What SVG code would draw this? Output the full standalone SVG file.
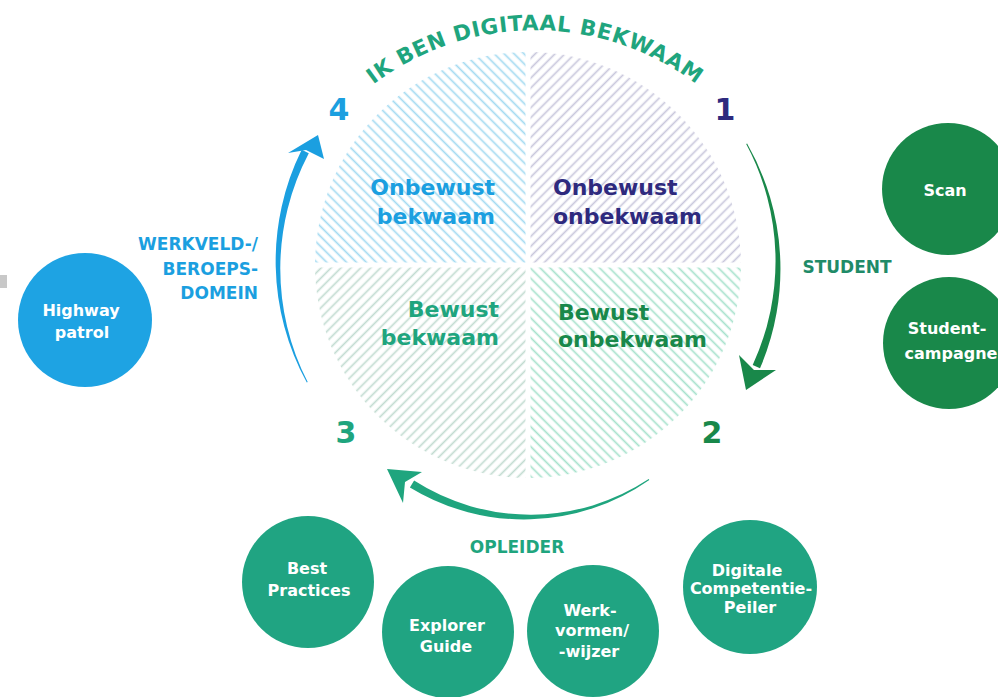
<svg xmlns="http://www.w3.org/2000/svg" width="998" height="697" viewBox="0 0 998 697">
<style>
text{font-family:"DejaVu Sans","Liberation Sans",sans-serif;font-weight:bold}
.ct{fill:#ffffff;font-size:16px;text-anchor:middle}
.q{font-size:22px}
.num{font-size:30px;text-anchor:middle}
.lbl{font-size:17px}
</style>
<defs>
<pattern id="pTL" width="7" height="7" patternUnits="userSpaceOnUse" patternTransform="rotate(-45)"><line x1="3.5" y1="0" x2="3.5" y2="7" stroke="#a3daf1" stroke-width="1.7"/></pattern>
<pattern id="pTR" width="7" height="7" patternUnits="userSpaceOnUse" patternTransform="rotate(45)"><line x1="3.5" y1="0" x2="3.5" y2="7" stroke="#c9c7dc" stroke-width="1.7"/></pattern>
<pattern id="pBL" width="7" height="7" patternUnits="userSpaceOnUse" patternTransform="rotate(45)"><line x1="3.5" y1="0" x2="3.5" y2="7" stroke="#c2dbd1" stroke-width="1.7"/></pattern>
<pattern id="pBR" width="7" height="7" patternUnits="userSpaceOnUse" patternTransform="rotate(-45)"><line x1="3.5" y1="0" x2="3.5" y2="7" stroke="#a6e1cc" stroke-width="1.7"/></pattern>
<path id="titleArc" d="M328 128 A268 268 0 0 1 742 128"/>
</defs>
<rect width="998" height="697" fill="#ffffff"/>
<rect x="0" y="275" width="7" height="13" fill="#c8c8c8"/>

<g id="quadrants">
<path d="M528 265 L315 265 A213 213 0 0 1 528 52 Z" fill="url(#pTL)"/>
<path d="M528 265 L528 52 A213 213 0 0 1 741 265 Z" fill="url(#pTR)"/>
<path d="M528 265 L741 265 A213 213 0 0 1 528 478 Z" fill="url(#pBR)"/>
<path d="M528 265 L528 478 A213 213 0 0 1 315 265 Z" fill="url(#pBL)"/>
<line x1="528" y1="48" x2="528" y2="482" stroke="#ffffff" stroke-width="5"/>
<line x1="311" y1="265" x2="745" y2="265" stroke="#ffffff" stroke-width="5"/>
<text class="q" x="495" y="195" fill="#1b9fe0" text-anchor="end">Onbewust</text>
<text class="q" x="495" y="224" fill="#1b9fe0" text-anchor="end">bekwaam</text>
<text class="q" x="553" y="195" fill="#2e2a7e">Onbewust</text>
<text class="q" x="553" y="224" fill="#2e2a7e">onbekwaam</text>
<text class="q" x="499" y="317" fill="#1fa57e" text-anchor="end">Bewust</text>
<text class="q" x="499" y="345" fill="#1fa57e" text-anchor="end">bekwaam</text>
<text class="q" x="558" y="320" fill="#19884a">Bewust</text>
<text class="q" x="558" y="347" fill="#19884a">onbekwaam</text>
</g>

<g id="title">
<text font-size="21.5" fill="#1fa57e" letter-spacing="0.6"><textPath href="#titleArc" startOffset="50%" text-anchor="middle">IK BEN DIGITAAL BEKWAAM</textPath></text>
</g>

<g id="numbers">
<text class="num" x="339" y="120" fill="#1b9fe0">4</text>
<text class="num" x="725" y="120" fill="#2e2a7e">1</text>
<text class="num" x="346" y="443" fill="#1fa57e">3</text>
<text class="num" x="712" y="443" fill="#19884a">2</text>
</g>

<g id="connectors">
<path d="M747.1 143.6 A252 252 0 0 1 760.0 368.3 L752.7 365.0 A248 248 0 0 0 746.2 144.0 Z" fill="#19884a"/>
<path d="M746 390 L739 355 L754 370 L776 370 Z" fill="#19884a"/>
<path d="M306.8 382.6 A252 252 0 0 1 301.7 149.7 L308.8 153.3 A248 248 0 0 0 307.7 382.1 Z" fill="#1b9fe0"/>
<path d="M318 135 L288 153 L306 150 L324 159 Z" fill="#1b9fe0"/>
<path d="M649.3 479.9 A219 219 0 0 1 409.9 487.4 L414.1 480.6 A215 215 0 0 0 648.7 479.1 Z" fill="#1fa57e"/>
<path d="M387 469 L422 472 L405 482 L403 503 Z" fill="#1fa57e"/>
</g>

<g id="labels">
<text class="lbl" x="847" y="273" fill="#1f8b68" text-anchor="middle">STUDENT</text>
<text class="lbl" x="258" y="249.5" fill="#1b9fe0" text-anchor="end" font-size="17.5">WERKVELD-/</text>
<text class="lbl" x="258" y="274.5" fill="#1b9fe0" text-anchor="end" font-size="17.5">BEROEPS-</text>
<text class="lbl" x="258" y="298.5" fill="#1b9fe0" text-anchor="end" font-size="17.5">DOMEIN</text>
<text class="lbl" x="517" y="553" fill="#1fa57e" text-anchor="middle">OPLEIDER</text>
</g>

<g id="node-scan">
<circle cx="948" cy="189" r="66" fill="#19884a"/>
<text class="ct" x="945" y="196">Scan</text>
</g>
<g id="node-studentcampagne">
<circle cx="949" cy="343" r="66" fill="#19884a"/>
<text class="ct" x="947" y="334">Student-</text>
<text class="ct" x="951" y="359">campagne</text>
</g>
<g id="node-highway">
<circle cx="85" cy="320" r="67" fill="#1ea3e3"/>
<text class="ct" x="81" y="316">Highway</text>
<text class="ct" x="82" y="338">patrol</text>
</g>
<g id="node-bestpractices">
<circle cx="308" cy="582" r="66" fill="#20a482"/>
<text class="ct" x="307" y="574">Best</text>
<text class="ct" x="309" y="596">Practices</text>
</g>
<g id="node-explorer">
<circle cx="448" cy="632" r="66" fill="#20a482"/>
<text class="ct" x="447" y="631">Explorer</text>
<text class="ct" x="446" y="652">Guide</text>
</g>
<g id="node-werkvormen">
<circle cx="593" cy="631" r="66" fill="#20a482"/>
<text class="ct" x="590" y="616">Werk-</text>
<text class="ct" x="592" y="636">vormen/</text>
<text class="ct" x="589" y="657">-wijzer</text>
</g>
<g id="node-digitale">
<circle cx="750" cy="587" r="67" fill="#20a482"/>
<text class="ct" x="747" y="576" font-size="15">Digitale</text>
<text class="ct" x="751" y="594" font-size="15">Competentie-</text>
<text class="ct" x="750" y="613" font-size="15">Peiler</text>
</g>
</svg>
